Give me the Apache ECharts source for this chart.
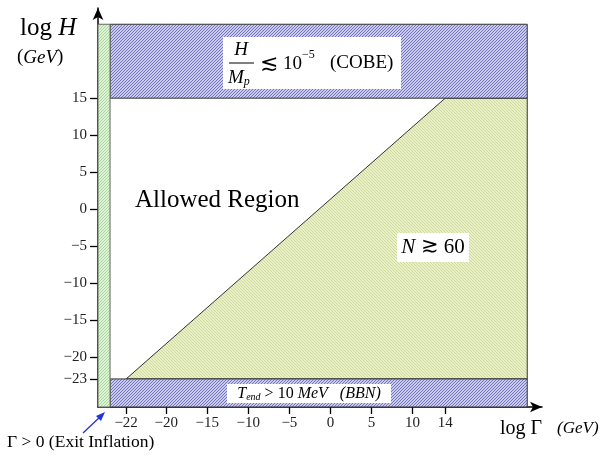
<!DOCTYPE html>
<html>
<head>
<meta charset="utf-8">
<script src="https://cdn.jsdelivr.net/npm/echarts@6/dist/echarts.min.js"></script>
<style>
	html, body { margin: 0; padding: 0; background: #fff; }
	#main { width: 613px; height: 456px; }
</style>
</head>
<body>
<div id="main"></div>
<script>
// 刻度标签 (log Γ, log H 单位 GeV)
var xTicks = [-22, -20, -15, -10, -5, 0, 5, 10, 14];
var yTicks = [-23, -20, -15, -10, -5, 0, 5, 10, 15];

// 坐标轴范围
var gammaAxis = [-23.4, 25.8];
var hAxis = [-26.8, 27.2];

// 区域边界
var gammaFrame = 24;       // 右边框
var stripEdge = -22.8;     // Γ > 0 的窄条
var hFrame = 25;           // 上边框
var cobeH = 15;            // H/Mp ≲ 1e-5
var bbnH = -23;            // T_end > 10 MeV
var boundaryGamma = [-22, 14]; // N ≳ 60 的分界线
var boundaryH = [-23, 15];

// 原图是示意图，-22 到 -20 之间被拉宽了
var STRETCH = 2.45;
function gx(v) {
	return v >= -20 ? v : -20 + (v + 20) * STRETCH;
}
function minus(v) {
	return String(v).replace('-', '\u2212');
}

// 斜线填充
function hatch(bg, fg, size, dir) {
	var c = document.createElement('canvas');
	c.width = c.height = size;
	var ctx = c.getContext('2d');
	ctx.fillStyle = bg;
	ctx.fillRect(0, 0, size, size);
	ctx.fillStyle = fg;
	for (var i = 0; i < size; i++) {
		var x = dir > 0 ? size - 1 - i : i;
		ctx.fillRect(x, i, 1, 1);
	}
	return { image: c, repeat: 'repeat' };
}
var bluePat = hatch('#c9caee', '#7476bd', 3, 1);
var yellowPat = hatch('#eaf0c8', '#cdd99a', 3, -1);
var greenPat = hatch('#e0f3d8', '#a3d994', 3, 1);

function region(name, pts, fill, stroke) {
	return {
		name: name,
		type: 'custom',
		coordinateSystem: 'cartesian2d',
		silent: true,
		clip: false,
		data: [[0, 0]],
		renderItem: function(params, api) {
			return {
				type: 'polygon',
				shape: {
					points: pts.map(function(p) { return api.coord([gx(p[0]), p[1]]); })
				},
				style: { fill: fill, stroke: stroke, lineWidth: 1 }
			};
		}
	};
}

var serif = 'Liberation Serif';
var myChart = echarts.init(document.getElementById('main'));

// 标注文字，画在区域上面
var notes = [
	// 纵轴名
	{ type: 'text', left: 20, top: 16, style: { rich: { r: { fontFamily: serif, fontSize: 25, fill: '#000' }, i: { fontFamily: serif, fontSize: 25, fontStyle: 'italic', fill: '#000' } }, text: '{r|log }{i|H}' } },
	{ type: 'text', left: 17, top: 48, style: { rich: { r: { fontFamily: serif, fontSize: 19, fill: '#000' }, i: { fontFamily: serif, fontSize: 19, fontStyle: 'italic', fill: '#000' } }, text: '{r|(}{i|GeV}{r|)}' } },
	// COBE 标注
	{ type: 'rect', shape: { x: 223, y: 37, width: 178, height: 52 }, style: { fill: '#fff' } },
	{ type: 'text', x: 241, y: 50, style: { text: 'H', fontFamily: serif, fontSize: 19, fontStyle: 'italic', fill: '#000', align: 'center', verticalAlign: 'middle' } },
	{ type: 'line', shape: { x1: 229, y1: 63, x2: 254, y2: 63 }, style: { stroke: '#000', lineWidth: 1 } },
	{ type: 'text', x: 228, y: 78, style: { rich: { i: { fontFamily: serif, fontSize: 19, fontStyle: 'italic', fill: '#000' }, s: { fontFamily: serif, fontSize: 12, fontStyle: 'italic', fill: '#000', padding: [8, 0, 0, 0] } }, text: '{i|M}{s|p}', verticalAlign: 'middle' } },
	{ type: 'text', x: 260, y: 64, style: { text: '\u2272', fontFamily: 'DejaVu Serif', fontSize: 22, fill: '#000', verticalAlign: 'middle' } },
	{ type: 'text', x: 283, y: 64, style: { text: '10', fontFamily: serif, fontSize: 19, fill: '#000', verticalAlign: 'middle' } },
	{ type: 'text', x: 302, y: 55, style: { text: '\u22125', fontFamily: serif, fontSize: 12, fill: '#000', verticalAlign: 'middle' } },
	{ type: 'text', x: 330, y: 63, style: { text: '(COBE)', fontFamily: serif, fontSize: 19, fill: '#000', verticalAlign: 'middle' } },
	// 允许区域
	{ type: 'text', x: 135, y: 200, style: { text: 'Allowed Region', fontFamily: serif, fontSize: 25, fill: '#000', verticalAlign: 'middle' } },
	// N ≳ 60
	{ type: 'rect', shape: { x: 397, y: 233, width: 72, height: 29 }, style: { fill: '#fff' } },
	{ type: 'text', x: 433, y: 247, style: { rich: { i: { fontFamily: serif, fontSize: 21, fontStyle: 'italic', fill: '#000' }, r: { fontFamily: serif, fontSize: 21, fill: '#000' }, g: { fontFamily: 'DejaVu Serif', fontSize: 21, fill: '#000' } }, text: '{i|N }{g|\u2273}{r| 60}', align: 'center', verticalAlign: 'middle' } },
	// BBN 标注
	{ type: 'rect', shape: { x: 227, y: 384, width: 164, height: 19 }, style: { fill: '#fff' } },
	{ type: 'text', x: 309, y: 394, style: { rich: { i: { fontFamily: serif, fontSize: 16, fontStyle: 'italic', fill: '#000' }, r: { fontFamily: serif, fontSize: 16, fill: '#000' }, s: { fontFamily: serif, fontSize: 10, fontStyle: 'italic', fill: '#000', padding: [6, 0, 0, 0] } }, text: '{i|T}{s|end}{r| > 10 }{i|MeV   (BBN)}', align: 'center', verticalAlign: 'middle' } },
	// 横轴名
	{ type: 'text', x: 500, y: 429, style: { rich: { r: { fontFamily: serif, fontSize: 20, fill: '#000' }, i: { fontFamily: serif, fontSize: 17, fontStyle: 'italic', fill: '#000' } }, text: '{r|log \u0393}{r|   }{i|(GeV)}', verticalAlign: 'middle' } },
	// Γ > 0 箭头
	{ type: 'text', x: 7, y: 442, style: { text: '\u0393 > 0 (Exit Inflation)', fontFamily: serif, fontSize: 17.5, fill: '#000', verticalAlign: 'middle' } },
	{ type: 'line', shape: { x1: 83, y1: 433, x2: 101, y2: 416 }, style: { stroke: '#2233dd', lineWidth: 1.3 } },
	{ type: 'polygon', shape: { points: [[105, 412], [96, 416], [101, 421]] }, style: { fill: '#2233dd' } }
];
notes.forEach(function(el) {
	el.z = 100;
	el.silent = true;
});

var option = {
	backgroundColor: '#fff',
	animation: false,
	grid: { left: 98, right: 71, top: 8, bottom: 49 },
	xAxis: {
		type: 'value',
		min: gx(gammaAxis[0]),
		max: gammaAxis[1],
		splitLine: { show: false },
		axisLine: { onZero: false, lineStyle: { color: '#000', width: 1.5 }, symbol: ['none', 'arrow'], symbolSize: [8, 12] },
		axisTick: { length: 7, lineStyle: { color: '#000', width: 1.3 }, customValues: xTicks.map(gx) },
		axisLabel: {
			margin: 9,
			fontFamily: serif,
			fontSize: 15,
			color: '#222',
			customValues: xTicks.map(gx),
			formatter: function(val) {
				var i = xTicks.map(gx).findIndex(function(u) { return Math.abs(u - val) < 1e-6; });
				return i < 0 ? '' : minus(xTicks[i]);
			}
		}
	},
	yAxis: {
		type: 'value',
		min: hAxis[0],
		max: hAxis[1],
		splitLine: { show: false },
		axisLine: { onZero: false, lineStyle: { color: '#000', width: 1.5 }, symbol: ['none', 'arrow'], symbolSize: [8, 12] },
		axisTick: { length: 8, lineStyle: { color: '#000', width: 1.3 }, customValues: yTicks },
		axisLabel: {
			margin: 11,
			fontFamily: serif,
			fontSize: 15,
			color: '#222',
			customValues: yTicks,
			formatter: function(val) { return minus(val); }
		}
	},
	series: [
		region('N ≳ 60', [
			[boundaryGamma[0], boundaryH[0]], [boundaryGamma[1], boundaryH[1]],
			[gammaFrame, cobeH], [gammaFrame, bbnH]
		], yellowPat, '#333'),
		region('COBE', [
			[stripEdge, cobeH], [gammaFrame, cobeH], [gammaFrame, hFrame], [stripEdge, hFrame]
		], bluePat, '#333'),
		region('BBN', [
			[stripEdge, hAxis[0]], [gammaFrame, hAxis[0]], [gammaFrame, bbnH], [stripEdge, bbnH]
		], bluePat, '#333'),
		region('Exit Inflation', [
			[gammaAxis[0], hAxis[0]], [stripEdge, hAxis[0]], [stripEdge, hFrame], [gammaAxis[0], hFrame]
		], greenPat, '#666')
	],
	graphic: notes
};

myChart.setOption(option);
</script>
</body>
</html>
